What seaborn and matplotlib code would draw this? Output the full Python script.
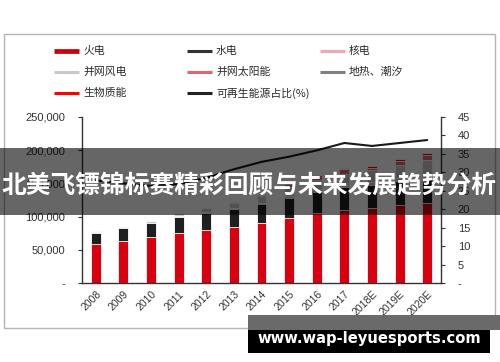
import numpy as np
import pandas as pd
import matplotlib
matplotlib.use("Agg")
import matplotlib.pyplot as plt
import seaborn as sns
from matplotlib.lines import Line2D
from matplotlib.patches import Rectangle

# 装机容量 (万千瓦)
years = ['2008', '2009', '2010', '2011', '2012', '2013', '2014',
         '2015', '2016', '2017', '2018E', '2019E', '2020E']
thermal = [59000, 63500, 70000, 75000, 80000, 84500, 90000, 97500, 105000, 110000, 113000, 117500, 121000]
hydro = [17000, 19000, 20000, 24000, 25000, 27000, 29000, 31000, 32500, 34000, 35000, 36000, 37500]
nuclear = [900, 900, 1100, 1250, 1250, 1450, 2000, 2700, 3350, 3600, 4500, 5200, 5800]
wind = [850, 1750, 2950, 4600, 6100, 7650, 9650, 13000, 14700, 16400, 17500, 19000, 21000]
solar = [0, 0, 0, 200, 350, 1600, 2500, 4200, 7600, 8000, 3500, 6000, 6500]
geo = [0, 0, 0, 0, 0, 0, 0, 0, 0, 0, 0, 0, 0]
bio = [0, 0, 0, 0, 0, 0, 0, 0, 0, 1500, 2000, 2300, 3000]
share = [27.8, 27.0, 26.3, 26.8, 28.5, 30.8, 32.8, 34.2, 35.9, 37.9, 37.1, 37.9, 38.7]

labels = ['火电', '水电', '核电', '并网风电', '并网太阳能', '地热、潮汐', '生物质能']
colors = ['#d9000f', '#1f1f1f', '#f4b4c0', '#c8c8c8', '#e0647a', '#808080', '#ff0000']
layers = [thermal, hydro, nuclear, wind, solar, geo, bio]

sns.set_style('white')
plt.rcParams['font.family'] = ['Noto Sans CJK SC', 'DejaVu Sans']

fig = plt.figure(figsize=(5, 3.62), dpi=100, facecolor='white')
ax = fig.add_axes([0.164, 0.2174, 0.718, 0.4602])

# stacked bars: draw cumulative totals from the top layer down
cum = np.cumsum(np.array(layers, dtype=float), axis=0)
for i in range(len(layers) - 1, -1, -1):
    df = pd.DataFrame({'year': years, 'value': cum[i]})
    sns.barplot(data=df, x='year', y='value', order=years, color=colors[i],
                saturation=1, width=0.36, edgecolor='white', linewidth=0.6, ax=ax)

ax.set_xlim(-0.5, 12.5)
ax.set_ylim(0, 250000)
ax.set_yticks(np.arange(0, 250001, 50000))
ax.set_yticklabels(['-'] + [f'{v:,}' for v in range(50000, 250001, 50000)],
                   family='Liberation Sans', fontsize=8, color='#333333')
ax.set_xticks(range(len(years)))
ax.set_xticklabels(years, rotation=45, ha='right', rotation_mode='anchor',
                   family='Liberation Sans', fontsize=7.5, color='#333333')
ax.tick_params(axis='x', length=0, pad=4)
ax.tick_params(axis='y', direction='out', length=3, width=0.8, color='#333333', pad=9, left=True)
ax.set_xlabel('')
ax.set_ylabel('')
for s in ['left', 'bottom']:
    ax.spines[s].set_color('#333333')
    ax.spines[s].set_linewidth(1.0)
ax.spines['top'].set_visible(False)
ax.spines['right'].set_visible(False)

ax2 = ax.twinx()
sns.lineplot(x=years, y=share, ax=ax2, color='#1a1a1a', linewidth=1.5, sort=False)
ax2.set_ylim(0, 45)
ax2.set_yticks(np.arange(0, 46, 5))
ax2.set_yticklabels(['-'] + [str(v) for v in range(5, 46, 5)],
                    family='Liberation Sans', fontsize=8, color='#333333')
ax2.tick_params(axis='y', direction='out', length=3, width=0.8, color='#333333', pad=9, right=True)
ax2.spines['right'].set_color('#333333')
ax2.spines['right'].set_linewidth(1.0)
for s in ['top', 'left', 'bottom']:
    ax2.spines[s].set_visible(False)
ax2.set_xlim(-0.5, 12.5)

# legend, three columns placed by hand
leg_items = [
    ('火电', '#c8000f', 3.4), ('水电', '#333333', 2.2), ('核电', '#f4a6b4', 2.2),
    ('并网风电', '#c8c8c8', 2.2), ('并网太阳能', '#e06478', 2.2), ('地热、潮汐', '#808080', 2.2),
    ('生物质能', '#ff0000', 2.2), ('可再生能源占比(%)', '#222222', 2.2),
]
col_x = [54, 187, 320]
row_y = [51, 72, 93]
W, H = 500, 362
for k, (lab, c, lw) in enumerate(leg_items):
    r, cc = divmod(k, 3)
    x0 = col_x[cc]
    y = 1 - row_y[r] / H
    fig.add_artist(Line2D([x0 / W, (x0 + 25) / W], [y, y], color=c, lw=lw,
                          transform=fig.transFigure, solid_capstyle='butt'))
    fig.text((x0 + 29) / W, y, lab, fontsize=7.8, fontweight='medium', color='#2a2a2a',
             va='center', ha='left')

# outer frame
fig.add_artist(Rectangle((4 / W, 1 - 328 / H), 491 / W, 294 / H, transform=fig.transFigure,
                         fill=False, edgecolor='#b4b4b4', lw=1.0, zorder=5))

# title banner over the chart
fig.add_artist(Rectangle((0, 1 - 215 / H), 1, 67 / H, transform=fig.transFigure,
                         facecolor='black', alpha=0.6, edgecolor='none', zorder=10))
fig.text(0.498, 1 - 185 / H, '北美飞镖锦标赛精彩回顾与未来发展趋势分析', fontsize=17.8,
         fontweight='bold', color='white', ha='center', va='center', zorder=11)

# site watermark
fig.add_artist(Rectangle((248 / W, 1 - 330 / H), 252 / W, 15 / H, transform=fig.transFigure,
                         facecolor='#6a6a6a', edgecolor='none', zorder=10))
fig.add_artist(Rectangle((248 / W, 1 - 353 / H), 242 / W, 23 / H, transform=fig.transFigure,
                         facecolor='black', edgecolor='none', zorder=10))
fig.text(369 / W, 1 - 339 / H, 'www.wap-leyuesports.com', fontsize=10.6, fontweight='bold',
         family='DejaVu Sans', color='white', ha='center', va='center', zorder=11)

fig.savefig('out.png', dpi=100, facecolor='white')
